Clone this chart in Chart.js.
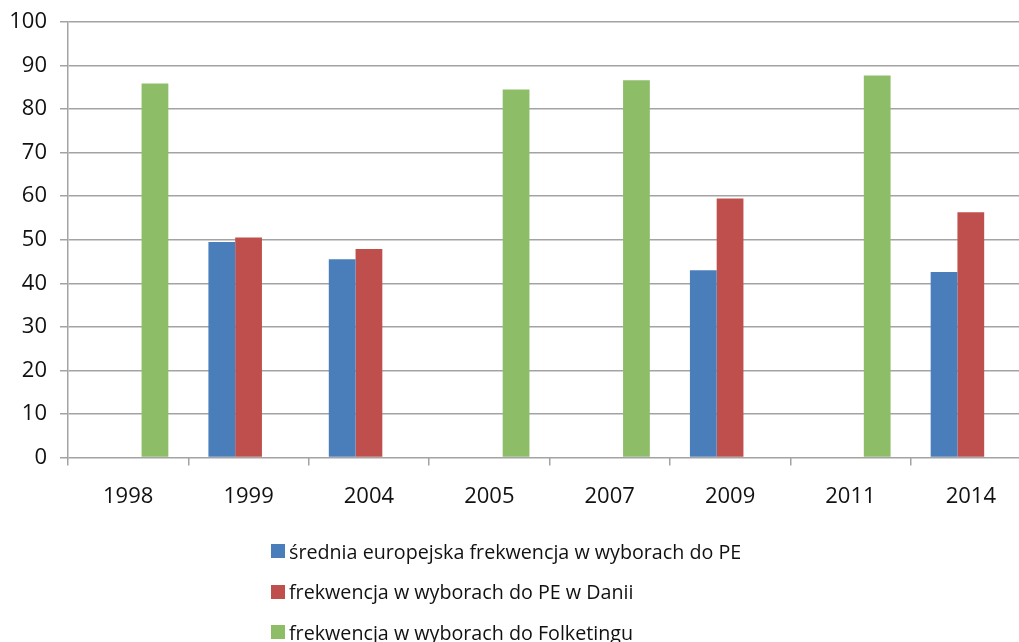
<!DOCTYPE html>
<html>
<head>
<meta charset="utf-8">
<script src="https://cdn.jsdelivr.net/npm/chart.js@4/dist/chart.umd.min.js"></script>
<style>
  html, body { margin: 0; padding: 0; background: #fff; overflow: hidden; width: 1019px; height: 642px; }
  #wrap { position: absolute; left: 0; top: 0; width: 1031px; height: 642px; }
  #legend { position: absolute; left: 271px; top: 0; font-family: "Open Sans", sans-serif; font-size: 19.7px; color: #111; }
  .item { position: absolute; left: 0; white-space: nowrap; display: flex; align-items: center; height: 30px; }
  .box { width: 14px; height: 14px; margin-right: 4px; flex: none; }
</style>
</head>
<body>
<div id="wrap"><canvas id="c" width="1031" height="642"></canvas></div>
<div id="legend"></div>
<script>
const categories = ["1998", "1999", "2004", "2005", "2007", "2009", "2011", "2014"];
const seriesNames = [
  "średnia europejska frekwencja w wyborach do PE",
  "frekwencja w wyborach do PE w Danii",
  "frekwencja w wyborach do Folketingu"
];
const euAverage = [null, 49.5, 45.5, null, null, 43.0, null, 42.6];
const denmarkEP = [null, 50.5, 47.9, null, null, 59.5, null, 56.3];
const folketing = [85.9, null, null, 84.5, 86.6, null, 87.7, null];
const yTicks = [0, 10, 20, 30, 40, 50, 60, 70, 80, 90, 100];
const colors = ["#4a7ebb", "#be4f4d", "#8dbd67"];

const gridColor = "#a3a3a3";
const ctx = document.getElementById("c");
const chart = new Chart(ctx, {
  type: "bar",
  data: {
    labels: categories,
    datasets: [
      { label: seriesNames[0], data: euAverage, backgroundColor: colors[0] },
      { label: seriesNames[1], data: denmarkEP, backgroundColor: colors[1] },
      { label: seriesNames[2], data: folketing, backgroundColor: colors[2] }
    ]
  },
  options: {
    responsive: false,
    animation: false,
    layout: { padding: { top: 22, right: 0, left: 0, bottom: 0 } },
    datasets: { bar: { categoryPercentage: 0.667, barPercentage: 1.0, skipNull: false } },
    plugins: { legend: { display: false }, tooltip: { enabled: false } },
    scales: {
      x: {
        grid: { offset: true, drawOnChartArea: false, drawTicks: true, tickLength: 8, color: gridColor, lineWidth: 1.5 },
        border: { display: false },
        ticks: { color: "#111", font: { family: "Open Sans", size: 22 }, padding: 18 },
        afterFit: (s) => { s.height = 642 - 457.5; s.paddingLeft = 0; s.paddingRight = 0; }
      },
      y: {
        min: 0, max: 100,
        afterBuildTicks: (s) => { s.ticks = yTicks.map(v => ({ value: v })); },
        grid: { color: gridColor, lineWidth: 1.5, tickLength: 8 },
        border: { display: true, color: gridColor, width: 1.5 },
        ticks: { color: "#111", font: { family: "Open Sans", size: 22 }, padding: 13 },
        afterFit: (s) => { s.width = 68; s.paddingTop = 0; s.paddingBottom = 0; }
      }
    }
  }
});

// HTML legend built from the chart's datasets
const legend = document.getElementById("legend");
const rowCenters = [551, 591.5, 632];
chart.data.datasets.forEach((ds, i) => {
  const item = document.createElement("div");
  item.className = "item";
  item.style.top = (rowCenters[i] - 15) + "px";
  const box = document.createElement("span");
  box.className = "box";
  box.style.background = ds.backgroundColor;
  const txt = document.createElement("span");
  txt.textContent = ds.label;
  item.appendChild(box);
  item.appendChild(txt);
  legend.appendChild(item);
});
</script>
</body>
</html>
